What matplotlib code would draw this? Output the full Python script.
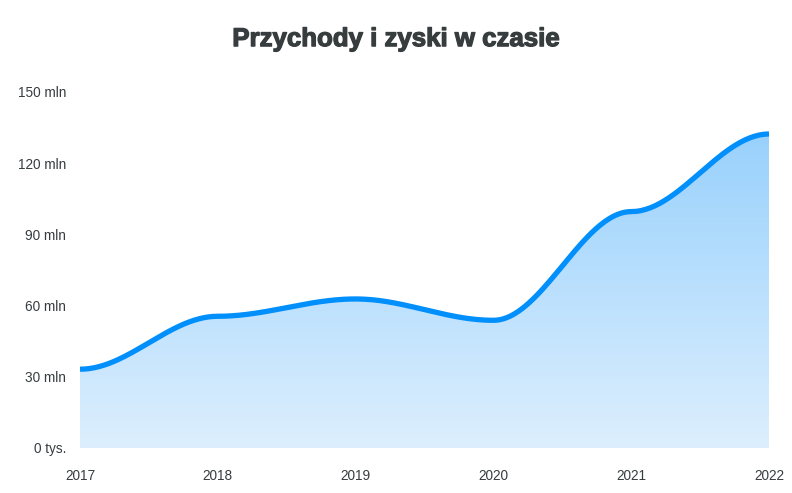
import matplotlib.pyplot as plt
import matplotlib.patheffects as pe
import numpy as np
from matplotlib.colors import LinearSegmentedColormap
from matplotlib.patches import Polygon

years = [2017, 2018, 2019, 2020, 2021, 2022]
przychody = [33.2, 55.5, 62.8, 53.8, 99.6, 132.3]  # mln
y_ticks = [0, 30, 60, 90, 120, 150]
y_labels = ['0 tys.', '30 mln', '60 mln', '90 mln', '120 mln', '150 mln']

line_color = '#008FFB'
text_color = '#373d3f'


def smooth(xs, ys, n=60, k=0.35):
    # krzywa Beziera z poziomymi stycznymi w punktach
    px, py = [], []
    for i in range(len(xs) - 1):
        x0, x1 = xs[i], xs[i + 1]
        y0, y1 = ys[i], ys[i + 1]
        dx = (x1 - x0) * k
        t = np.linspace(0, 1, n)
        bx = (1 - t)**3 * x0 + 3 * (1 - t)**2 * t * (x0 + dx) + 3 * (1 - t) * t**2 * (x1 - dx) + t**3 * x1
        by = (1 - t)**3 * y0 + 3 * (1 - t)**2 * t * y0 + 3 * (1 - t) * t**2 * y1 + t**3 * y1
        px.extend(bx)
        py.extend(by)
    return np.array(px), np.array(py)


fig = plt.figure(figsize=(7.92, 4.93), dpi=100)
ax = fig.add_axes([80 / 792, 45 / 493, 689 / 792, 356 / 493])

sx, sy = smooth(years, przychody)

# wypelnienie gradientem
cmap = LinearSegmentedColormap.from_list('grad', [(0.865, 0.937, 0.996), (0.60, 0.82, 0.99)])
grad = np.linspace(0, 1, 256).reshape(-1, 1)
img = ax.imshow(grad, extent=[years[0], years[-1], 0, max(przychody)], origin='lower',
                aspect='auto', cmap=cmap, zorder=1)
verts = np.column_stack([np.r_[sx, years[-1], years[0]], np.r_[sy, 0, 0]])
poly = Polygon(verts, closed=True, facecolor='none', edgecolor='none')
ax.add_patch(poly)
img.set_clip_path(poly)

ax.plot(sx, sy, color=line_color, lw=3.8, solid_capstyle='butt', zorder=3)

ax.set_xlim(years[0], years[-1])
ax.set_ylim(0, 150)
ax.set_xticks(years)
ax.set_xticklabels([str(y) for y in years])
ax.set_yticks(y_ticks)
ax.set_yticklabels(y_labels)
for s in ax.spines.values():
    s.set_visible(False)
ax.tick_params(axis='both', length=0, labelsize=9.8, labelcolor=text_color)
ax.tick_params(axis='y', pad=10)
ax.tick_params(axis='x', pad=15)
for lab in ax.get_xticklabels() + ax.get_yticklabels():
    lab.set_fontfamily('Liberation Sans')

title = fig.suptitle('Przychody i zyski w czasie', x=0.5, y=0.945, fontsize=18.6, fontweight='bold',
                     color=text_color, family='Liberation Sans')
title.set_path_effects([pe.withStroke(linewidth=0.9, foreground=text_color)])

fig.savefig('out.png', dpi=100)
